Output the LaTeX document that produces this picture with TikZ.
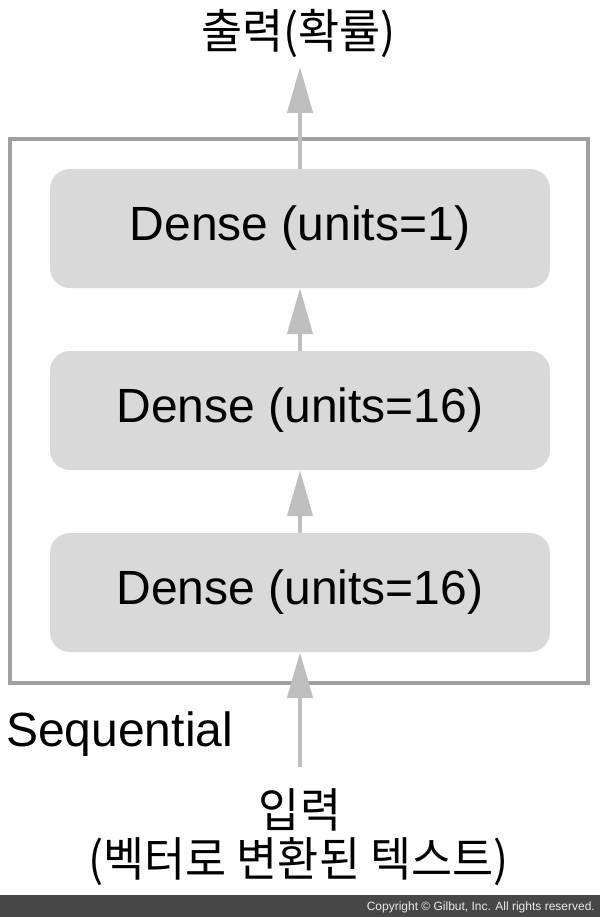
\documentclass[tikz,border=0pt]{standalone}
\usepackage{graphicx}
\usepackage{fontspec}
\setmainfont{Liberation Sans}
\newfontfamily\kor{Noto Sans CJK KR}
\usetikzlibrary{arrows.meta}
\definecolor{boxfill}{HTML}{D9D9D9}
\definecolor{framegray}{HTML}{A0A0A0}
\definecolor{arrowgray}{HTML}{BEBEBE}
\definecolor{bardark}{HTML}{474747}
\newcommand{\korsq}[1]{\scalebox{0.95}[1]{#1}}
\begin{document}
\begin{tikzpicture}[x=1pt,y=-1pt,
  layer/.style={fill=boxfill, rounded corners=20pt, draw=none, inner sep=0pt,
    minimum width=500pt, minimum height=119pt,
    font=\fontsize{48}{57}\selectfont},
  conn/.style={draw=arrowgray, line width=4.5pt,
    -{Triangle[length=46pt,width=25pt]}},
  korlbl/.style={inner sep=0pt, anchor=base, font=\kor\fontsize{47}{52}\selectfont},
]
\useasboundingbox (0,0) rectangle (600,917);
% frame of the Sequential model
\draw[framegray, line width=4pt] (10,139) rectangle (588,683);
% layers
\node[layer] (d1) at (300,228.5) {Dense (units=1)};
\node[layer] (d2) at (300,410.5) {Dense (units=16)};
\node[layer] (d3) at (300,592.5) {Dense (units=16)};
% labels
\node[korlbl] (title) at (298.5,49) {\korsq{출력(확률)}};
\node[inner sep=0pt, anchor=base west, font=\fontsize{48}{52}\selectfont] (seq) at (6,746) {Sequential};
\node[korlbl] (in1) at (300,827) {\korsq{입력}};
\node[korlbl] (in2) at (298.5,876) {\korsq{(벡터로 변환된 텍스트)}};
% connectors
\coordinate (outtip) at (300,67);
\coordinate (intail) at (300,767);
\draw[conn] (intail) -- (d3);
\draw[conn] (d3) -- (d2);
\draw[conn] (d2) -- (d1);
\draw[conn] (d1) -- (outtip);
% copyright bar
\fill[bardark] (0,895) rectangle (600,917);
\node[anchor=base east, inner sep=0pt, text=white!92!black,
  font=\fontsize{12}{14}\selectfont] (copy) at (595,910)
  {Copyright \textcopyright{} Gilbut, Inc. All rights reserved.};
\end{tikzpicture}
\end{document}
